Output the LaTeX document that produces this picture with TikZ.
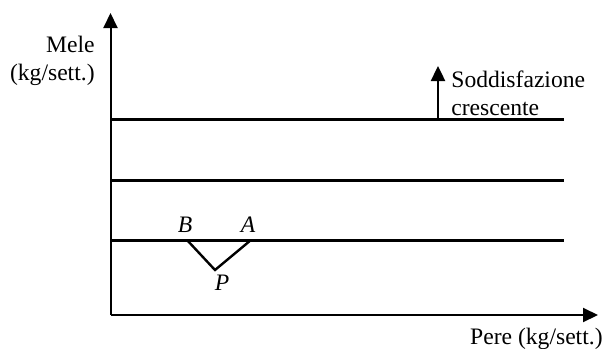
\documentclass[tikz,border=0pt]{standalone}
\usepackage{fontspec}
\setmainfont{Liberation Serif}
\usetikzlibrary{arrows.meta,positioning}
\tikzset{
  >={Triangle[length=7.5pt,width=7pt]},
  axis/.style={line width=1pt,->},
  indiff/.style={line width=1.5pt},
  lbl/.style={font=\fontsize{11.8}{14}\selectfont,inner sep=0pt,align=left},
  pt/.style={font=\fontsize{11.8}{14}\selectfont\itshape,inner sep=0pt}
}
\begin{document}
\begin{tikzpicture}[x=0.5pt,y=-0.5pt]
\useasboundingbox (0,0) rectangle (604,348);
% axes
\coordinate (O) at (110.5,315);
\coordinate (ytop) at (110.5,13);
\coordinate (xend) at (598,315);
\draw[axis] (O) -- (ytop);
\draw[axis] (O) -- (xend);
\node[lbl,align=right,anchor=north east] (mele) at (95,36) {Mele\\(kg/sett.)};
\node[lbl,anchor=base east] (pere) at (603,344) {Pere (kg/sett.)};
% indifference lines
\foreach \y/\n in {119/top,180/mid,240/low}{
  \coordinate (\n L) at (110.5,\y);
  \coordinate (\n R) at (564,\y);
  \draw[indiff] (\n L) -- (\n R);
}
% direction of preference
\coordinate (arrbase) at (438,119);
\coordinate (arrtip) at (438,66);
\draw[->,line width=1.2pt] (arrbase) -- (arrtip);
\node[lbl,anchor=north west] (sodd) at (451,70) {Soddisfazione\\crescente};
% bundles
\coordinate (B) at (187,240);
\coordinate (P) at (215,270);
\coordinate (A) at (251,240);
\draw[line width=1.2pt] (B) -- (P) -- (A);
\node[pt,anchor=base] (labB) at (185,232) {B};
\node[pt,anchor=base] (labA) at (248,232) {A};
\node[pt,anchor=base] (labP) at (222,290) {P};
\end{tikzpicture}
\end{document}
